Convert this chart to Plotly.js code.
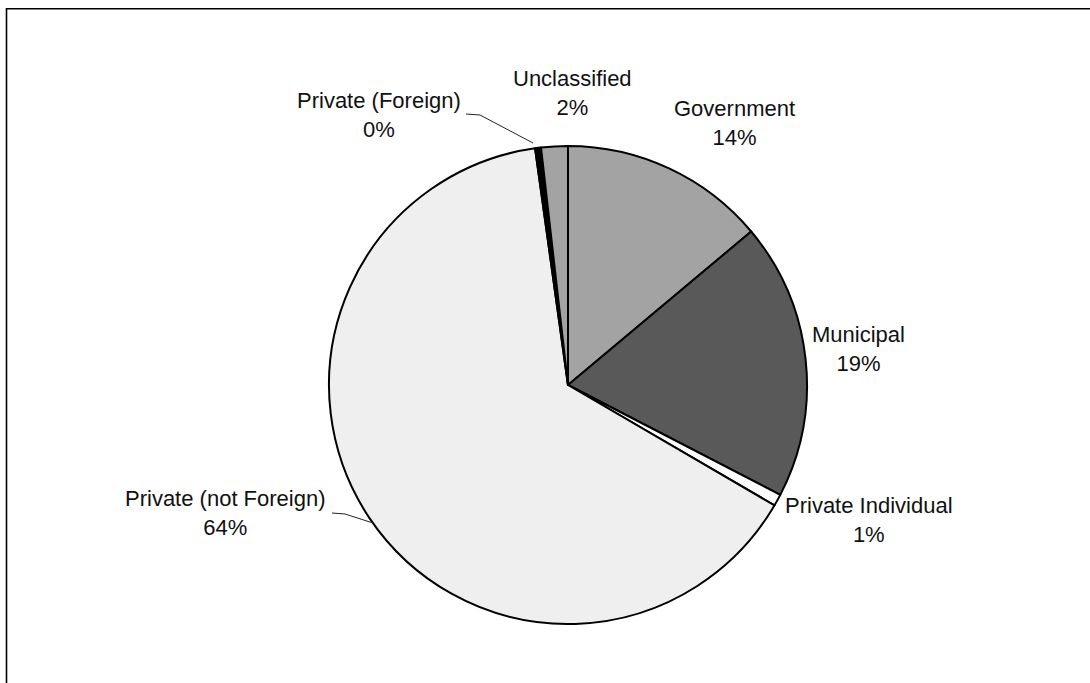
<!DOCTYPE html>
<html>
<head>
<meta charset="utf-8">
<script src="https://cdn.plot.ly/plotly-3.0.1.min.js"></script>
<style>
  html, body { margin: 0; padding: 0; background: #ffffff; }
  #chart { width: 1090px; height: 683px; }
</style>
</head>
<body>
<div id="chart"></div>
<script>
// ---- data ----
var categories = ["Government", "Municipal", "Private Individual", "Private (not Foreign)", "Private (Foreign)", "Unclassified"];
var shares = [13.9, 18.7, 0.8, 64.4, 0.4, 1.8];
var sliceColors = ["#a3a3a3", "#595959", "#ffffff", "#efefef", "#000000", "#a3a3a3"];

// ---- label placement (pixel centres of the two-line labels) ----
var labelPos = [
  [734, 123],   // Government
  [858, 349],   // Municipal
  [869, 520],   // Private Individual
  [225, 513],   // Private (not Foreign)
  [379, 115],   // Private (Foreign)
  [572, 93]     // Unclassified
];
// leader lines (pixel paths)
var leaders = [
  [[466, 114], [480, 115], [533, 143]],
  [[332, 513], [345, 514], [373, 523]]
];

var W = 1090, H = 683;
function px(x) { return x / W; }
function py(y) { return 1 - y / H; }

// pie geometry in pixels
var cx = 568, cy = 385, R = 239;

var total = shares.reduce(function (a, b) { return a + b; }, 0);
var texts = categories.map(function (c, i) {
  return c + "<br>" + Math.round(shares[i] / total * 100) + "%";
});

var trace = {
  type: "pie",
  labels: categories,
  values: shares,
  sort: false,
  direction: "clockwise",
  rotation: 0,
  textinfo: "none",
  hoverinfo: "label+percent",
  showlegend: false,
  marker: { colors: sliceColors, line: { color: "#000000", width: 2 } },
  domain: { x: [px(cx - R), px(cx + R)], y: [py(cy + R), py(cy - R)] }
};

var annotations = texts.map(function (t, i) {
  return {
    text: t, xref: "paper", yref: "paper",
    x: px(labelPos[i][0]), y: py(labelPos[i][1]),
    xanchor: "center", yanchor: "middle", showarrow: false,
    align: "center",
    font: { family: "Liberation Sans, Arial, sans-serif", size: 22, color: "#111111" }
  };
});

var shapes = leaders.map(function (pts) {
  var d = pts.map(function (p, k) { return (k ? "L" : "M") + px(p[0]) + "," + py(p[1]); }).join(" ");
  return { type: "path", xref: "paper", yref: "paper", path: d, line: { color: "#222222", width: 1 } };
});
// chart frame (left and top edges visible)
shapes.push({
  type: "rect", xref: "paper", yref: "paper",
  x0: px(6.5), x1: 1.05, y0: -0.05, y1: py(8.7),
  line: { color: "#000000", width: 1.6 }, fillcolor: "rgba(0,0,0,0)"
});

var layout = {
  width: W, height: H,
  margin: { l: 0, r: 0, t: 0, b: 0 },
  paper_bgcolor: "#ffffff",
  plot_bgcolor: "#ffffff",
  annotations: annotations,
  shapes: shapes,
  font: { family: "Liberation Sans, Arial, sans-serif" }
};

Plotly.newPlot("chart", [trace], layout, { displayModeBar: false, staticPlot: true });
</script>
</body>
</html>
